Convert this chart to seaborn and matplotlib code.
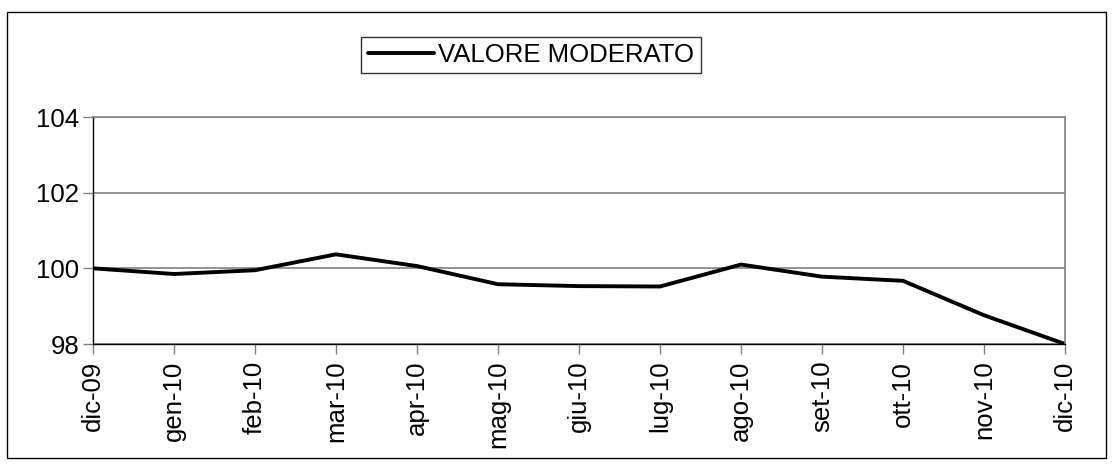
import pandas as pd
import matplotlib
matplotlib.use("Agg")
import matplotlib.pyplot as plt
import seaborn as sns
from matplotlib.patches import Rectangle

# --- Données ---
months = ["dic-09", "gen-10", "feb-10", "mar-10", "apr-10", "mag-10", "giu-10",
          "lug-10", "ago-10", "set-10", "ott-10", "nov-10", "dic-10"]
values = [100.0, 99.85, 99.95, 100.37, 100.06, 99.58, 99.53,
          99.52, 100.1, 99.78, 99.67, 98.76, 98.0]
yticks = [98, 100, 102, 104]
series_name = "VALORE MODERATO"

df = pd.DataFrame({"mese": months, "valore": values})

sns.set_style("white")
plt.rcParams["font.family"] = ["Liberation Sans", "DejaVu Sans"]
plt.rcParams["text.color"] = "black"

FS = 18.5
W, H = 1113, 465
fig = plt.figure(figsize=(W / 100, H / 100), dpi=100)
ax = fig.add_axes([93 / W, 1 - 344 / H, (1065 - 93) / W, (344 - 117) / H])

sns.lineplot(data=df, x="mese", y="valore", ax=ax, color="black",
             linewidth=2.8, label=series_name, sort=False)

ax.set_xlim(0, len(months) - 1)
ax.set_ylim(98, 104)
ax.set_yticks(yticks)
ax.set_yticklabels([str(v) for v in yticks])
ax.set_xticks(range(len(months)))
ax.set_xticklabels(months, rotation=90)
ax.set_xlabel("")
ax.set_ylabel("")

ax.yaxis.grid(True, color="#808080", linewidth=1.2)
ax.set_axisbelow(True)
ax.tick_params(axis="both", direction="out", length=7, width=1,
               color="#808080", labelcolor="black", labelsize=FS, pad=3,
               left=True, bottom=True)
ax.tick_params(axis="x", pad=5)

for s in ["left", "bottom"]:
    ax.spines[s].set_color("black")
    ax.spines[s].set_linewidth(1)
for s in ["top", "right"]:
    ax.spines[s].set_color("#808080")
    ax.spines[s].set_linewidth(1.2)

leg = ax.legend(loc="center", bbox_to_anchor=(531 / W, 1 - 55 / H),
                bbox_transform=fig.transFigure, frameon=True, fancybox=False,
                fontsize=FS, handlelength=2.6, handletextpad=0.15,
                borderpad=0.25, borderaxespad=0, labelcolor="black")
leg.get_frame().set_edgecolor("black")
leg.get_frame().set_linewidth(1)

# cadre extérieur du graphique
fig.patches.append(Rectangle((7 / W, 1 - 458 / H), (1106 - 7) / W, (458 - 12) / H,
                             transform=fig.transFigure, fill=False,
                             edgecolor="black", linewidth=1))

fig.savefig("out.png", dpi=100, facecolor="white")
